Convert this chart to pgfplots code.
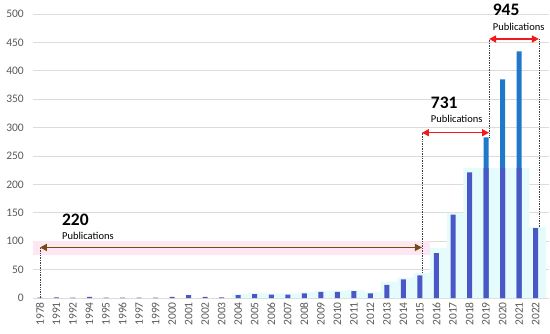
\documentclass[border=0pt]{standalone}
\usepackage{fontspec}
\setmainfont{Carlito}
\usepackage{pgfplots}
\usepackage{pgfplotstable}
\pgfplotsset{compat=1.18}
\usetikzlibrary{arrows.meta}

\definecolor{barviolet}{HTML}{4A57C6}
\definecolor{barblue}{HTML}{1F78C9}
\definecolor{glowcyan}{HTML}{E6FBFC}
\definecolor{bandpink}{HTML}{FDE7F2}
\definecolor{arrbrown}{HTML}{7A4A12}
\definecolor{arrred}{HTML}{F01A1A}
\definecolor{gridgray}{HTML}{DCDCDC}
\definecolor{ticktxt}{HTML}{595959}

% index year value (2019-2021 cut at the colour change)
\pgfplotstableread{
x year v
0 1978 0.6
1 1991 1
2 1992 0.5
3 1994 2
4 1995 0.5
5 1996 0.5
6 1997 0.5
7 1999 0.5
8 2000 2
9 2001 5
10 2002 2
11 2003 1
12 2004 5
13 2005 7
14 2006 6
15 2007 6
16 2008 8
17 2009 11
18 2010 11
19 2011 12
20 2012 8
21 2013 23
22 2014 33
23 2015 40
24 2016 79
25 2017 147
26 2018 221
27 2019 229
28 2020 229
29 2021 229
30 2022 123
}\lowtab

\pgfplotstableread{
x v
27 283
28 385
29 434
}\toptab

\pgfplotstableread{
x v
12 7
13 9
14 8
15 8
16 10
17 13
18 13
19 14
20 11
21 29
22 36
23 44
24 88
25 150
26 229
27 229
28 229
29 229
30 125
}\glowtab

\begin{document}
\begin{tikzpicture}
\begin{axis}[
  scale only axis,
  width=516pt, height=284pt,
  xmin=-0.42, xmax=30.81,
  ymin=0, ymax=500,
  ytick={0,50,...,500},
  xtick={0,...,30},
  xticklabels={1978,1991,1992,1994,1995,1996,1997,1999,2000,2001,2002,2003,2004,2005,2006,2007,2008,2009,2010,2011,2012,2013,2014,2015,2016,2017,2018,2019,2020,2021,2022},
  xticklabel style={rotate=90, anchor=east, font=\fontsize{11.5}{13}\selectfont, text=ticktxt, inner sep=1pt},
  yticklabel style={font=\fontsize{11.5}{13}\selectfont, text=ticktxt, anchor=east, inner sep=1pt},
  yticklabel shift=8pt,
  xticklabel shift=3pt,
  /pgf/number format/assume math mode=true,
  axis line style={draw=none},
  major tick length=0pt,
  ymajorgrids=true,
  grid style={gridgray, line width=0.8pt},
  clip=false,
  ybar, bar shift=0pt,
]
% pink band behind the long arrow
\fill[bandpink] (axis cs:-0.42,76) rectangle (axis cs:23.6,101);
\addplot[ybar, bar width=16.5pt, bar shift=2pt, draw=none, fill=glowcyan] table[x=x, y=v] {\glowtab};
\addplot[ybar, bar width=5pt, draw=none, fill=barblue] table[x=x, y=v] {\toptab};
\addplot[ybar, bar width=5pt, draw=none, fill=barviolet] table[x=x, y=v] {\lowtab};

% dotted guides
\draw[densely dotted, black!75, line width=0.7pt] (axis cs:0,0) -- (axis cs:0,89);
\draw[densely dotted, black!75, line width=0.7pt] (axis cs:23.12,45) -- (axis cs:23.12,291);
\draw[densely dotted, black!75, line width=0.7pt] (axis cs:27.18,283) -- (axis cs:27.18,456);
\draw[densely dotted, black!75, line width=0.7pt] (axis cs:30.2,125) -- (axis cs:30.2,456);

% arrows
\draw[arrbrown, line width=1.5pt, {Triangle[length=7pt,width=7pt]}-{Triangle[length=7pt,width=7pt]}]
  (axis cs:0,89) -- (axis cs:23.12,89);
\draw[arrred, line width=1.5pt, {Triangle[length=7pt,width=7pt]}-{Triangle[length=7pt,width=7pt]}]
  (axis cs:23.12,291) -- (axis cs:27.18,291);
\draw[arrred, line width=1.5pt, {Triangle[length=7pt,width=7pt]}-{Triangle[length=7pt,width=7pt]}]
  (axis cs:27.18,456) -- (axis cs:30.2,456);

% labels
\node[anchor=west, inner sep=0, font=\fontsize{17.5}{18}\selectfont\bfseries] at (axis cs:1.33,138) {220};
\node[anchor=west, inner sep=0, font=\fontsize{10.5}{12}\selectfont] at (axis cs:1.33,108.5) {Publications};
\node[anchor=west, inner sep=0, font=\fontsize{17.5}{18}\selectfont\bfseries] at (axis cs:23.65,344) {731};
\node[anchor=west, inner sep=0, font=\fontsize{10.5}{12}\selectfont] at (axis cs:23.65,315.6) {Publications};
\node[anchor=west, inner sep=0, font=\fontsize{17.5}{18}\selectfont\bfseries] at (axis cs:27.4,507) {945};
\node[anchor=west, inner sep=0, font=\fontsize{10.5}{12}\selectfont] at (axis cs:27.4,477.6) {Publications};
\end{axis}
\pgfresetboundingbox
\path[use as bounding box] (-33pt,-35pt) rectangle (517pt,298pt);
\end{tikzpicture}
\end{document}
